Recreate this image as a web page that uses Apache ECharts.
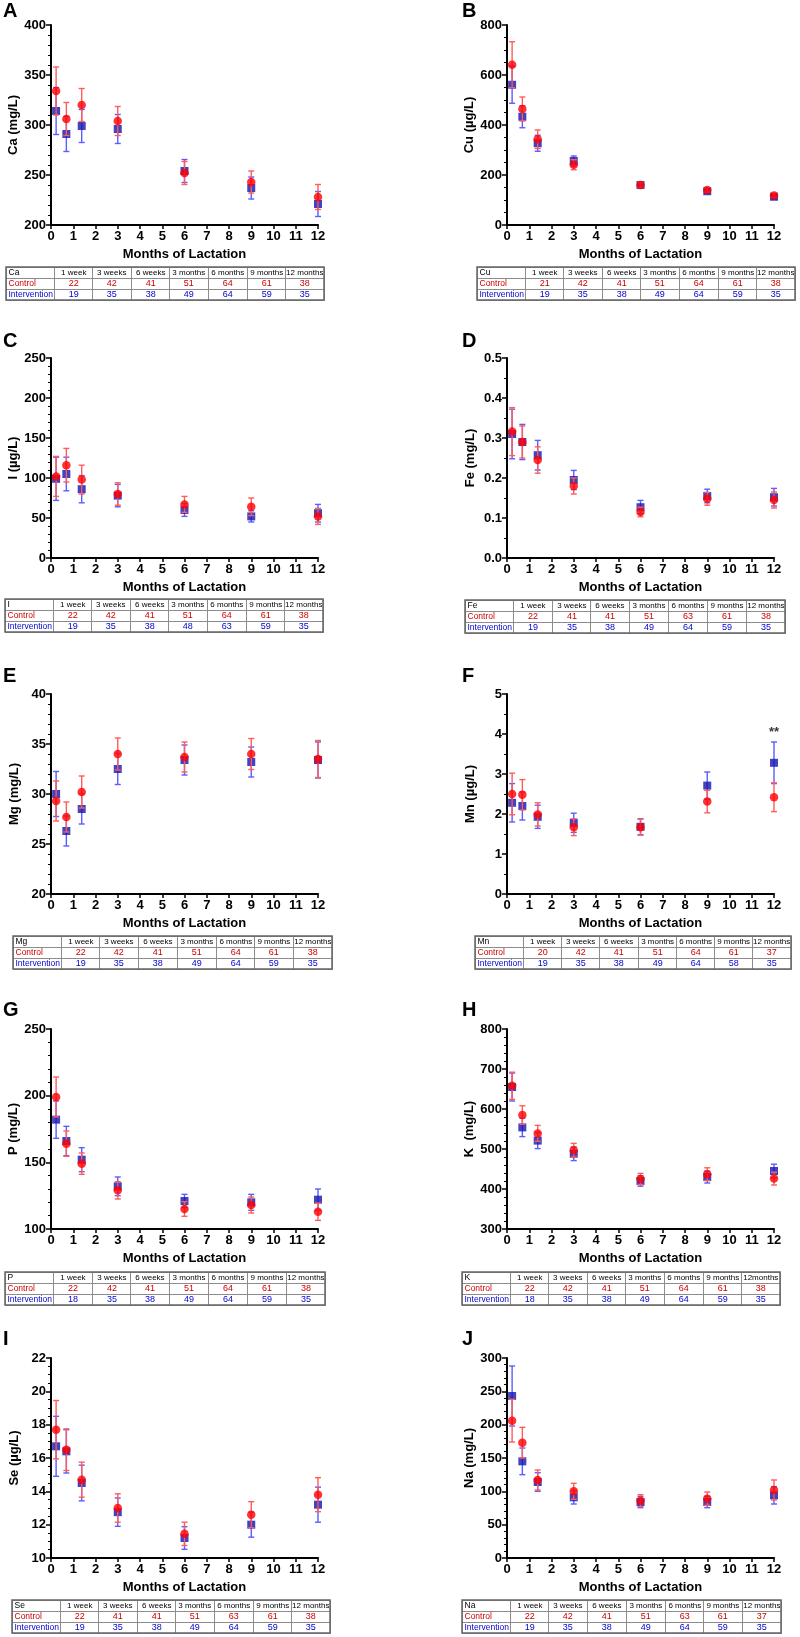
<!DOCTYPE html>
<html><head><meta charset="utf-8">
<script src="https://cdn.jsdelivr.net/npm/echarts@6/dist/echarts.min.js"></script>
<style>html,body{margin:0;padding:0;background:#fff}#c{width:800px;height:1637px}</style>
</head><body><div id="c"></div>
<script>
// ---- time points (months) and table column labels ----
const months = [0.23, 0.69, 1.38, 3, 6, 9, 12];
const colLabels = ['1 week','3 weeks','6 weeks','3 months','6 months','9 months','12 months'];
const colLabelsK = ['1 week','3 weeks','6 weeks','3 months','6 months','9 months','12months'];

// ---- A: Ca (mg/L) ----
const caCtrl = [334, 306, 320, 304, 252, 243, 228];
const caCtrlErr = [24, 16.5, 16.5, 14.5, 11.5, 11, 12.5];
const caInt = [314, 291, 299, 296, 254, 237, 221];
const caIntErr = [23.5, 17.5, 16.5, 14.5, 11.5, 11, 12.5];
const caNCtrl = [22, 42, 41, 51, 64, 61, 38];
const caNInt = [19, 35, 38, 49, 64, 59, 35];
// ---- B: Cu (µg/L) ----
const cuCtrl = [641, 464, 343, 241, 160, 140, 118];
const cuCtrlErr = [92, 48, 37, 20, 10, 9, 8];
const cuInt = [561, 433, 327, 256, 160, 135, 113];
const cuIntErr = [74, 44, 32, 20, 10, 8, 8];
const cuNCtrl = [21, 42, 41, 51, 64, 61, 38];
const cuNInt = [19, 35, 38, 49, 64, 59, 35];
// ---- C: I (µg/L) ----
const iCtrl = [102, 116, 98, 80, 67, 64, 52];
const iCtrlErr = [25, 21, 18, 14, 10, 11, 10];
const iInt = [99, 105, 86, 78, 60, 52, 56];
const iIntErr = [27, 21, 17, 14, 8, 7, 11];
const iNCtrl = [22, 42, 41, 51, 64, 61, 38];
const iNInt = [19, 35, 38, 48, 63, 59, 35];
// ---- D: Fe (mg/L) ----
const feCtrl = [0.316, 0.29, 0.245, 0.18, 0.115, 0.148, 0.145];
const feCtrlErr = [0.06, 0.04, 0.033, 0.02, 0.012, 0.016, 0.02];
const feInt = [0.31, 0.29, 0.257, 0.195, 0.127, 0.155, 0.152];
const feIntErr = [0.062, 0.044, 0.037, 0.024, 0.017, 0.017, 0.022];
const feNCtrl = [22, 41, 41, 51, 63, 61, 38];
const feNInt = [19, 35, 38, 49, 64, 59, 35];
// ---- E: Mg (mg/L) ----
const mgCtrl = [29.3, 27.7, 30.2, 34.0, 33.7, 34.0, 33.5];
const mgCtrlErr = [2.0, 1.5, 1.6, 1.6, 1.5, 1.55, 1.85];
const mgInt = [30.0, 26.3, 28.5, 32.5, 33.4, 33.2, 33.4];
const mgIntErr = [2.25, 1.5, 1.5, 1.55, 1.5, 1.5, 1.8];
const mgNCtrl = [22, 42, 41, 51, 64, 61, 38];
const mgNInt = [19, 35, 38, 49, 64, 59, 35];
// ---- F: Mn (µg/L) ----
const mnCtrl = [2.5, 2.48, 1.99, 1.67, 1.67, 2.31, 2.42];
const mnCtrlErr = [0.52, 0.38, 0.29, 0.21, 0.2, 0.28, 0.36];
const mnInt = [2.28, 2.2, 1.93, 1.78, 1.68, 2.71, 3.28];
const mnIntErr = [0.48, 0.35, 0.29, 0.24, 0.2, 0.34, 0.52];
const mnNCtrl = [20, 42, 41, 51, 64, 61, 37];
const mnNInt = [19, 35, 38, 49, 64, 58, 35];
const mnSigLabel = '**';
const mnSigIndex = 6;
// ---- G: P (mg/L) ----
const pCtrl = [199, 164, 149, 129, 115, 118, 113];
const pCtrlErr = [15, 9.5, 8, 6.5, 5.5, 6, 6.5];
const pInt = [182, 166, 152, 132, 121, 120, 122];
const pIntErr = [14, 11, 9, 7, 5, 6, 8];
const pNCtrl = [22, 42, 41, 51, 64, 61, 38];
const pNInt = [18, 35, 38, 49, 64, 59, 35];
// ---- H: K (mg/L) ----
const kCtrl = [658, 585, 539, 497, 425, 437, 426];
const kCtrlErr = [34, 23, 20, 17, 14, 16, 16];
const kInt = [655, 554, 521, 488, 420, 430, 445];
const kIntErr = [35, 23, 20, 17, 13, 15, 17];
const kNCtrl = [22, 42, 41, 51, 64, 61, 38];
const kNInt = [18, 35, 38, 49, 64, 59, 35];
// ---- I: Se (µg/L) ----
const seCtrl = [17.7, 16.5, 14.7, 13.0, 11.45, 12.6, 13.8];
const seCtrlErr = [1.75, 1.25, 1.05, 0.85, 0.7, 0.78, 1.02];
const seInt = [16.7, 16.4, 14.5, 12.75, 11.2, 12.0, 13.2];
const seIntErr = [1.8, 1.3, 1.07, 0.85, 0.68, 0.75, 1.05];
const seNCtrl = [22, 41, 41, 51, 63, 61, 38];
const seNInt = [19, 35, 38, 49, 64, 59, 35];
// ---- J: Na (mg/L) ----
const naCtrl = [206, 173, 117, 100, 86, 89, 102];
const naCtrlErr = [32, 23, 15, 12, 9, 10, 15];
const naInt = [243, 145, 114, 91, 84, 84, 94];
const naIntErr = [45, 20, 14, 10, 8.5, 8.5, 13];
const naNCtrl = [22, 42, 41, 51, 63, 61, 37];
const naNInt = [19, 35, 38, 49, 64, 59, 35];

// ---- y-axis tick definitions [min, max, interval, minorSplit, decimals] ----
const caTicks = [200, 400, 50, 5, 0];
const cuTicks = [0, 800, 200, 4, 0];
const iTicks = [0, 250, 50, 5, 0];
const feTicks = [0, 0.5, 0.1, 2, 1];
const mgTicks = [20, 40, 5, 5, 0];
const mnTicks = [0, 5, 1, 2, 0];
const pTicks = [100, 250, 50, 5, 0];
const kTicks = [300, 800, 100, 5, 0];
const seTicks = [10, 22, 2, 4, 0];
const naTicks = [0, 300, 50, 5, 0];

const panels = [
  {letter:'A', el:'Ca', yName:'Ca (mg/L)', ctrl:caCtrl, ctrlErr:caCtrlErr, int:caInt, intErr:caIntErr, nC:caNCtrl, nI:caNInt, ticks:caTicks, cols:colLabels},
  {letter:'B', el:'Cu', yName:'Cu (µg/L)', ctrl:cuCtrl, ctrlErr:cuCtrlErr, int:cuInt, intErr:cuIntErr, nC:cuNCtrl, nI:cuNInt, ticks:cuTicks, cols:colLabels},
  {letter:'C', el:'I', yName:'I (µg/L)', ctrl:iCtrl, ctrlErr:iCtrlErr, int:iInt, intErr:iIntErr, nC:iNCtrl, nI:iNInt, ticks:iTicks, cols:colLabels},
  {letter:'D', el:'Fe', yName:'Fe (mg/L)', ctrl:feCtrl, ctrlErr:feCtrlErr, int:feInt, intErr:feIntErr, nC:feNCtrl, nI:feNInt, ticks:feTicks, cols:colLabels},
  {letter:'E', el:'Mg', yName:'Mg (mg/L)', ctrl:mgCtrl, ctrlErr:mgCtrlErr, int:mgInt, intErr:mgIntErr, nC:mgNCtrl, nI:mgNInt, ticks:mgTicks, cols:colLabels},
  {letter:'F', el:'Mn', yName:'Mn (µg/L)', ctrl:mnCtrl, ctrlErr:mnCtrlErr, int:mnInt, intErr:mnIntErr, nC:mnNCtrl, nI:mnNInt, ticks:mnTicks, cols:colLabels, sig:true},
  {letter:'G', el:'P', yName:'P (mg/L)', ctrl:pCtrl, ctrlErr:pCtrlErr, int:pInt, intErr:pIntErr, nC:pNCtrl, nI:pNInt, ticks:pTicks, cols:colLabels},
  {letter:'H', el:'K', yName:'K  (mg/L)', ctrl:kCtrl, ctrlErr:kCtrlErr, int:kInt, intErr:kIntErr, nC:kNCtrl, nI:kNInt, ticks:kTicks, cols:colLabelsK},
  {letter:'I', el:'Se', yName:'Se (µg/L)', ctrl:seCtrl, ctrlErr:seCtrlErr, int:seInt, intErr:seIntErr, nC:seNCtrl, nI:seNInt, ticks:seTicks, cols:colLabels},
  {letter:'J', el:'Na', yName:'Na (mg/L)', ctrl:naCtrl, ctrlErr:naCtrlErr, int:naInt, intErr:naIntErr, nC:naNCtrl, nI:naNInt, ticks:naTicks, cols:colLabels}
];

// ---- layout (pixels) ----
const layout = [
  {gx:51, gy:25, lx:3, ly:1, tx:6, ty:267, tw:318},
  {gx:507, gy:25, lx:462, ly:1, tx:477, ty:267, tw:318},
  {gx:51, gy:358, lx:3, ly:331, tx:5, ty:599, tw:318},
  {gx:507, gy:358, lx:462, ly:331, tx:465, ty:600, tw:320},
  {gx:51, gy:694, lx:3, ly:666, tx:13, ty:936, tw:319},
  {gx:507, gy:694, lx:462, ly:666, tx:475, ty:936, tw:316},
  {gx:51, gy:1029, lx:3, ly:1000, tx:5, ty:1272, tw:320},
  {gx:507, gy:1029, lx:462, ly:1000, tx:462, ty:1272, tw:318},
  {gx:51, gy:1358, lx:3, ly:1329, tx:12, ty:1600, tw:318},
  {gx:507, gy:1358, lx:462, ly:1329, tx:462, ty:1600, tw:319}
];
const GW = 267, GH = 200, TH = 33, FIRSTCOL = 48;

const RED = '#ff0000', RED_BAR = '#ff5c5c', BLUE = '#1414b0', BLUE_BAR = '#5c5cff';
const TXT_RED = '#cc0000', TXT_BLUE = '#0000cc';
const axisFont = "'Liberation Sans', Arial, Helvetica, sans-serif";
const tableFont = "'Liberation Sans', Arial, sans-serif";

function errRender(color) {
  return function (params, api) {
    const x = api.value(0), lo = api.value(1), hi = api.value(2);
    const p1 = api.coord([x, lo]), p2 = api.coord([x, hi]);
    const w = 3;
    const st = {stroke: color, lineWidth: 1.4};
    return {type: 'group', children: [
      {type: 'line', shape: {x1: p1[0], y1: p1[1], x2: p2[0], y2: p2[1]}, style: st},
      {type: 'line', shape: {x1: p1[0] - w, y1: p1[1], x2: p1[0] + w, y2: p1[1]}, style: st},
      {type: 'line', shape: {x1: p2[0] - w, y1: p2[1], x2: p2[0] + w, y2: p2[1]}, style: st}
    ]};
  };
}

const measureCtx = document.createElement('canvas').getContext('2d');
function textW(s, size) { measureCtx.font = size + 'px ' + tableFont; return measureCtx.measureText(s).width; }

const grid = [], xAxis = [], yAxis = [], series = [], title = [], matrix = [];
panels.forEach((p, k) => {
  const L = layout[k];
  grid.push({left: L.gx, top: L.gy, width: GW, height: GH, containLabel: false});
  title.push({text: p.letter, left: L.lx, top: L.ly, padding: 0,
    textStyle: {fontSize: 20, fontWeight: 'bold', color: '#000', fontFamily: axisFont}});
  xAxis.push({gridIndex: k, type: 'value', min: 0, max: 12, interval: 1,
    name: 'Months of Lactation', nameLocation: 'middle', nameGap: 23,
    nameTextStyle: {fontSize: 13, fontWeight: 'bold', color: '#000', fontFamily: axisFont},
    axisLine: {show: true, onZero: false, lineStyle: {color: '#000', width: 2}},
    axisTick: {show: true, length: 4, lineStyle: {color: '#000', width: 1.5}},
    axisLabel: {fontSize: 13, fontWeight: 'bold', color: '#000', margin: 5, fontFamily: axisFont},
    splitLine: {show: false}});
  const t = p.ticks;
  yAxis.push({gridIndex: k, type: 'value', min: t[0], max: t[1], interval: t[2],
    name: p.yName, nameLocation: 'middle', nameGap: 30,
    nameTextStyle: {fontSize: 13, fontWeight: 'bold', color: '#000', fontFamily: axisFont},
    axisLine: {show: true, onZero: false, lineStyle: {color: '#000', width: 2}},
    axisTick: {show: true, length: 5, lineStyle: {color: '#000', width: 1.5}},
    minorTick: {show: true, splitNumber: t[3], length: 3, lineStyle: {color: '#000', width: 1}},
    axisLabel: {fontSize: 13, fontWeight: 'bold', color: '#000', margin: 5, fontFamily: axisFont,
      formatter: v => Number(v).toFixed(t[4])},
    splitLine: {show: false}, minorSplitLine: {show: false}});

  const errData = (m, e) => months.map((x, i) => [x, m[i] - e[i], m[i] + e[i]]);
  const ptData = m => months.map((x, i) => [x, m[i]]);
  series.push({type: 'custom', xAxisIndex: k, yAxisIndex: k, renderItem: errRender(BLUE_BAR),
    data: errData(p.int, p.intErr), encode: {x: 0, y: [1, 2]}, clip: false, z: 2, silent: true});
  series.push({type: 'scatter', xAxisIndex: k, yAxisIndex: k, symbol: 'rect', symbolSize: 8,
    itemStyle: {color: BLUE}, data: ptData(p.int), z: 3, silent: true});
  series.push({type: 'custom', xAxisIndex: k, yAxisIndex: k, renderItem: errRender(RED_BAR),
    data: errData(p.ctrl, p.ctrlErr), encode: {x: 0, y: [1, 2]}, clip: false, z: 4, silent: true});
  series.push({type: 'scatter', xAxisIndex: k, yAxisIndex: k, symbol: 'circle', symbolSize: 8.5,
    itemStyle: {color: RED}, data: ptData(p.ctrl), z: 5, silent: true});
  if (p.sig) {
    const i = mnSigIndex;
    series.push({type: 'scatter', xAxisIndex: k, yAxisIndex: k, symbolSize: 0,
      data: [[months[i], p.int[i] + p.intErr[i]]], z: 6, silent: true,
      label: {show: true, position: 'top', distance: 3, formatter: mnSigLabel,
        fontSize: 13, fontWeight: 'bold', color: '#000', fontFamily: axisFont}});
  }

  // ---- sample-size table (matrix coordinate system) ----
  const restW = (L.tw - FIRSTCOL) / 7;
  const xData = [{value: 'c0', size: FIRSTCOL}];
  for (let j = 1; j <= 7; j++) xData.push({value: 'c' + j, size: restW});
  const rows = [
    {cells: [p.el].concat(p.cols), color: '#000', size: 8},
    {cells: ['Control'].concat(p.nC.map(String)), color: TXT_RED, size: 9},
    {cells: ['Intervention'].concat(p.nI.map(String)), color: TXT_BLUE, size: 9}
  ];
  const body = [];
  rows.forEach((r, ri) => r.cells.forEach((c, ci) => {
    const fs = ci === 0 ? 8.5 : r.size;
    const lab = {show: true, color: r.color, fontSize: fs, fontFamily: tableFont, overflow: 'none',
      align: 'left', position: 'insideLeft'};
    // centre the text in its cell by left padding
    lab.padding = ci === 0 ? [0, 0, 0, 2] : [0, 0, 0, Math.max(0, (restW - textW(c, fs)) / 2)];
    body.push({coord: [ci, ri], value: c, label: lab});
  }));
  matrix.push({left: L.tx, top: L.ty, width: L.tw, height: TH,
    x: {show: false, data: xData},
    y: {show: false, data: [{value: 'r0', size: TH / 3}, {value: 'r1', size: TH / 3}, {value: 'r2', size: TH / 3}]},
    body: {data: body, label: {fontSize: 9, fontFamily: tableFont, color: '#000', overflow: 'none'},
      itemStyle: {borderColor: '#8c8c8c', borderWidth: 1}},
    backgroundStyle: {borderColor: '#666', borderWidth: 1.5}});
});

const chart = echarts.init(document.getElementById('c'), null, {renderer: 'canvas'});
chart.setOption({animation: false, backgroundColor: '#fff', title, grid, xAxis, yAxis, matrix, series});
</script></body></html>
